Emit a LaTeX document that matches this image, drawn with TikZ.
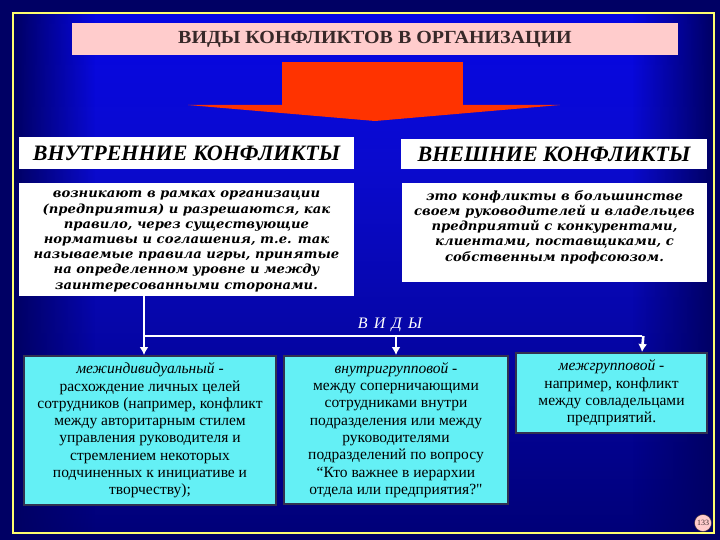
\documentclass[tikz,border=0pt]{standalone}
\usepackage{fontspec}
\setmainfont{Liberation Serif}
\newfontfamily\descfont[FakeStretch=1.045]{DejaVu Serif}
\newfontfamily\titlefont[FakeStretch=1.08]{Liberation Serif}
\newfontfamily\vidyfont[LetterSpace=14]{Liberation Serif}
\newfontfamily\quotefont{Liberation Serif}
\usetikzlibrary{arrows.meta,fadings}
\definecolor{navybg}{RGB}{0,0,100}
\definecolor{navyd}{RGB}{0,0,120}
\definecolor{bluem}{RGB}{10,10,205}
\definecolor{blueb}{RGB}{5,5,235}
\definecolor{framey}{RGB}{255,255,110}
\definecolor{titlepink}{RGB}{255,204,204}
\definecolor{titletext}{RGB}{55,40,40}
\definecolor{arrowred}{RGB}{255,51,0}
\definecolor{cyanbox}{RGB}{100,240,245}
\definecolor{cyanborder}{RGB}{50,50,80}
\pgfdeclareverticalshading{bgshade}{100bp}{color(0bp)=(navyd); color(25bp)=(navyd); color(60bp)=(bluem); color(80bp)=(blueb); color(100bp)=(blueb)}
\tikzset{
  titlebox/.style={fill=titlepink, inner sep=0pt, text=titletext,
    font=\titlefont\fontsize{18.5}{20}\selectfont\bfseries},
  hdrbox/.style={fill=white, inner sep=0pt, text=black,
    font=\fontsize{22}{24}\selectfont\bfseries\itshape},
  descbox/.style={fill=white, inner sep=0pt},
  desctext/.style={align=center, inner sep=0pt, text=black,
    font=\descfont\fontsize{12.6}{15.2}\selectfont\bfseries\itshape},
  kindbox/.style={fill=cyanbox, draw=cyanborder, line width=2pt, align=center,
    inner sep=0pt, text=black, font=\fontsize{15.5}{17.3}\selectfont},
  conn/.style={draw=white, line width=2.6pt},
  connarrow/.style={conn, -{Latex[length=8pt,width=9pt]}},
}
\begin{document}
\begin{tikzpicture}[x=1pt,y=-1pt]
\useasboundingbox (0,0) rectangle (720,540);
% background
\fill[navybg] (0,0) rectangle (720,540);
\shade[shading=bgshade] (13,13) rectangle (714,533);
\fill[navybg, path fading=east] (14,14) rectangle (95,532);
\fill[navybg, path fading=west] (632,14) rectangle (713,532);
\draw[framey, line width=2pt] (13,13) rectangle (714,533);
% title
\node[titlebox, minimum width=606pt, minimum height=32pt] (title) at (375,39)
  {ВИДЫ КОНФЛИКТОВ В ОРГАНИЗАЦИИ};
% red arrow
\fill[arrowred] (282,62) rectangle (463,106);
\fill[arrowred] (188,105) -- (560,105) -- (375,121) -- cycle;
% headers
\node[hdrbox, minimum width=335pt, minimum height=32pt] (inth) at (186.5,153)
  {ВНУТРЕННИЕ КОНФЛИКТЫ};
\node[hdrbox, minimum width=306pt, minimum height=30pt] (exth) at (554,154)
  {ВНЕШНИЕ КОНФЛИКТЫ};
% descriptions
\node[descbox, minimum width=335pt, minimum height=113pt] (intd) at (186.5,239.5) {};
\node[desctext] (intdt) at (186.5,241.5)
  {возникают в рамках организации\\
   (предприятия) и разрешаются, как\\
   правило, через существующие\\
   нормативы и соглашения, т.е. так\\
   называемые правила игры, принятые\\
   на определенном уровне и между\\
   заинтересованными сторонами.};
\node[descbox, minimum width=305pt, minimum height=99pt] (extd) at (554.5,232.5) {};
\node[desctext] (extdt) at (554.5,227)
  {это конфликты в большинстве\\
   своем руководителей и владельцев\\
   предприятий с конкурентами,\\
   клиентами, поставщиками, с\\
   собственным профсоюзом.};
% kinds
\node[kindbox, minimum width=252pt, minimum height=149pt] (left) at (150,430.5)
  {\textit{межиндивидуальный} -\\
   расхождение личных целей\\
   сотрудников (например, конфликт\\
   между авторитарным стилем\\
   управления руководителя и\\
   стремлением некоторых\\
   подчиненных к инициативе и\\
   творчеству);};
\node[kindbox, minimum width=224pt, minimum height=148pt] (mid) at (396,430)
  {\textit{внутригрупповой} -\\
   между соперничающими\\
   сотрудниками внутри\\
   подразделения или между\\
   руководителями\\
   подразделений по вопросу\\
   “Кто важнее в иерархии\\
   отдела или предприятия?{\quotefont"}};
\node[kindbox, minimum width=191pt, minimum height=80pt] (right) at (611.5,393)
  {\textit{межгрупповой} -\\
   например, конфликт\\
   между совладельцами\\
   предприятий.};
% connectors
\coordinate (jl) at (144,336);
\coordinate (jm) at (396,336);
\coordinate (jr) at (642,336);
\draw[connarrow] (intd.south -| jl) -- (left.north -| jl);
\draw[conn] (jl) -- (jr);
\draw[connarrow] (jm) -- (mid.north);
\draw[connarrow] ([xshift=1.3pt]jr) -- (right.north -| jr);
\node[text=white, font=\vidyfont\fontsize{16}{18}\selectfont\itshape] (vidy) at (390,325) {В И Д Ы};
% page number
\node[circle, fill=titlepink, draw=titletext, line width=0.4pt, minimum size=17pt,
  inner sep=0pt, font=\fontsize{8}{9}\selectfont, text=titletext] (page) at (703,523) {133};
\end{tikzpicture}
\end{document}
